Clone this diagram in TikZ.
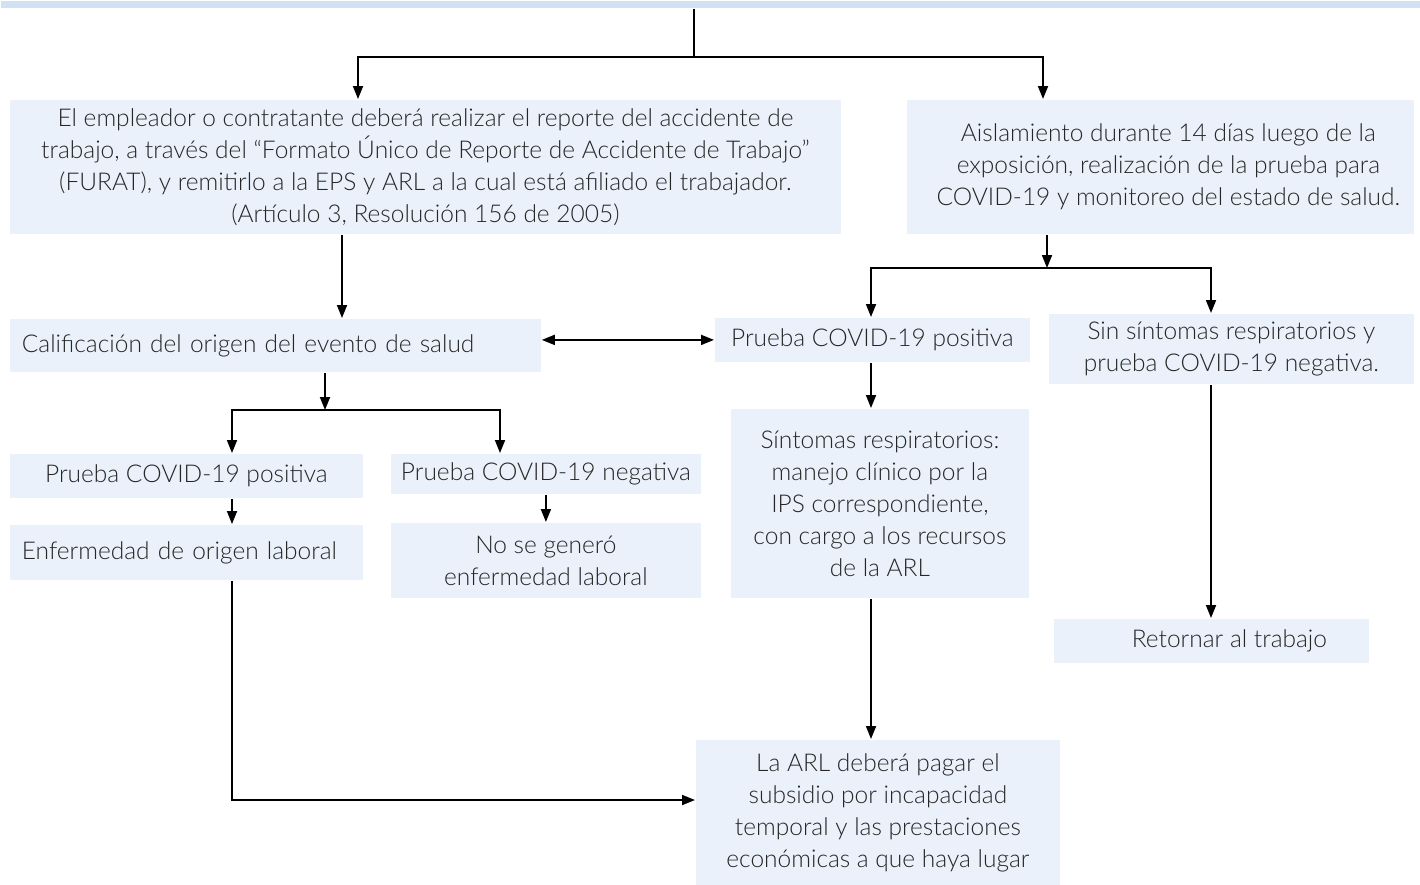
\documentclass[tikz,border=0pt]{standalone}
\usepackage{fontspec}
\setmainfont{Lato}[UprightFont=* Light]
\usetikzlibrary{arrows.meta}
\definecolor{topblue}{HTML}{CFE1F3}
\definecolor{boxblue}{HTML}{EAF1FA}
\definecolor{textgray}{HTML}{262626}
\begin{document}
\begin{tikzpicture}[x=1pt,y=-1pt,line width=1.8pt,>={Triangle[length=13pt,width=10pt]}]
\tikzstyle{box}=[fill=boxblue, text=textgray, inner sep=0pt, anchor=north west, align=center,
  font=\fontsize{24.5}{32}\selectfont]
\tikzstyle{leftbox}=[box, align=left, inner xsep=12pt]
\useasboundingbox (0,0) rectangle (1420,884);

\node[fill=topblue, inner sep=0pt, anchor=north west, minimum width=1420pt, minimum height=7pt] (top) at (0,0) {};

\node[box, minimum width=831pt, minimum height=134pt] (A) at (9,99)
  {El empleador o contratante deberá realizar el reporte del accidente de\\
   trabajo, a través del “Formato Único de Reporte de Accidente de Trabajo”\\
   (FURAT), y remitirlo a la EPS y ARL a la cual está afiliado el trabajador.\\
   (Artículo 3, Resolución 156 de 2005)};
\node[box, minimum width=507pt, minimum height=134pt] (B) at (906,99)
  {\hspace*{16pt}Aislamiento durante 14 días luego de la\\
   \hspace*{16pt}exposición, realización de la prueba para\\
   \hspace*{16pt}COVID-19 y monitoreo del estado de salud.};
\node[leftbox, text width=507pt, minimum height=53pt] (C) at (9,318)
  {Calificación del origen del evento de salud};
\node[box, minimum width=315pt, minimum height=44pt] (D) at (714,317)
  {Prueba COVID-19 positiva};
\node[box, minimum width=365pt, minimum height=70pt] (E) at (1048,313)
  {Sin síntomas respiratorios y\\ prueba COVID-19 negativa.};
\node[box, minimum width=353pt, minimum height=44pt] (F) at (9,453)
  {Prueba COVID-19 positiva};
\node[box, minimum width=310pt, minimum height=40pt] (G) at (390,453)
  {Prueba COVID-19 negativa};
\node[leftbox, text width=329pt, minimum height=55pt] (H) at (9,524)
  {Enfermedad de origen laboral};
\node[box, minimum width=310pt, minimum height=75pt] (I) at (390,522)
  {No se generó\\ enfermedad laboral};
\node[box, minimum width=298pt, minimum height=189pt] (J) at (730,408)
  {Síntomas respiratorios:\\ manejo clínico por la\\ IPS correspondiente,\\
   con cargo a los recursos\\ de la ARL};
\node[box, minimum width=315pt, minimum height=44pt] (K) at (1053,618)
  {\hspace*{36pt}Retornar al trabajo};
\node[box, minimum width=364pt, minimum height=145pt] (L) at (695,739)
  {La ARL deberá pagar el\\ subsidio por incapacidad\\ temporal y las prestaciones\\
   económicas a que haya lugar};

% junctions
\coordinate (t1) at (694,57);
\coordinate (a1) at (358,57);
\coordinate (b1) at (1043,57);
\coordinate (c1) at (342,0);
\coordinate (b2) at (1047,268);
\coordinate (d2) at (871,268);
\coordinate (e2) at (1211,268);
\coordinate (c2) at (325,410);
\coordinate (f2) at (232,410);
\coordinate (g2) at (500,410);
\coordinate (l1) at (695,800);

\draw (top.south -| t1) -- (t1);
\draw[->] (t1) -- (a1) -- (a1 |- A.north);
\draw[->] (t1) -- (b1) -- (b1 |- B.north);
\draw[->] (A.south -| c1) -- (C.north -| c1);
\draw[<->] (D.west -| C.east) -- (D.west);
\draw[->] (B.south -| b2) -- (b2);
\draw[->] (b2) -- (d2) -- (d2 |- D.north);
\draw[->] (b2) -- (e2) -- (e2 |- E.north);
\draw[->] (C.south -| c2) -- (c2);
\draw[->] (c2) -- (f2) -- (f2 |- F.north);
\draw[->] (c2) -- (g2) -- (g2 |- G.north);
\draw[->] (F.south -| f2) -- (H.north -| f2);
\draw[->] (G.south) -- (I.north);
\draw[->] (D.south -| d2) -- (J.north -| d2);
\draw[->] (E.south -| e2) -- (K.north -| e2);
\draw[->] (J.south -| d2) -- (L.north -| d2);
\draw[->] (H.south -| f2) |- (l1);

\end{tikzpicture}
\end{document}
